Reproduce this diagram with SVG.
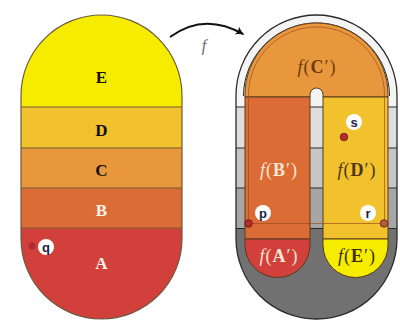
<svg xmlns="http://www.w3.org/2000/svg" width="400" height="329" viewBox="0 0 400 329">
  <style>
    .band-line { stroke: #7a5a30; stroke-width: 1; }
    .gline { stroke: #2a2a2a; stroke-width: 1; }
    .outline { fill: none; stroke: #6a5a40; stroke-width: 1.2; }
    .routline { fill: none; stroke: #2a2a2a; stroke-width: 1.3; }
    .lbl { font-family: "Liberation Serif", serif; font-weight: bold; font-size: 17px; text-anchor: middle; }
    .flbl { font-family: "Liberation Serif", serif; font-size: 18px; text-anchor: middle; letter-spacing: 1px; }
    .pt { font-family: "Liberation Sans", sans-serif; font-weight: bold; font-size: 13px; text-anchor: middle; fill: #1c2244; }
    .cw { fill: #ffffff; }
    .dot { fill: #b8282c; stroke: #5a1a1a; stroke-width: 0.8; }
    .cstroke { stroke: #5a3a1a; stroke-width: 1; }
  </style>
  <defs>
    <clipPath id="stadL">
      <path d="M21,95.5 A80.5,80.5 0 0 1 182,95.5 V238.5 A80.5,80.5 0 0 1 21,238.5 Z"/>
    </clipPath>
    <clipPath id="stadR">
      <path d="M236,95.5 A80.5,80.5 0 0 1 397,95.5 V238.5 A80.5,80.5 0 0 1 236,238.5 Z"/>
    </clipPath>
    <marker id="ah" viewBox="0 0 10 10" refX="8" refY="5" markerWidth="9" markerHeight="9" orient="auto" markerUnits="userSpaceOnUse">
      <path d="M0,0 Q5,4 10,5 Q5,6 0,10 Q3,5 0,0 Z" fill="#111"/>
    </marker>
  </defs>

  <rect width="400" height="329" fill="#ffffff"/>

  <!-- Left shape -->
  <g id="left-shape">
    <g clip-path="url(#stadL)">
      <rect x="15" y="10" width="175" height="97" fill="#f5ec00"/>
      <rect x="15" y="107" width="175" height="41" fill="#f2c12e"/>
      <rect x="15" y="148" width="175" height="40" fill="#e8973c"/>
      <rect x="15" y="188" width="175" height="40" fill="#dc6c35"/>
      <rect x="15" y="228" width="175" height="100" fill="#d1403a"/>
      <line class="band-line" x1="15" y1="107" x2="190" y2="107"/>
      <line class="band-line" x1="15" y1="148" x2="190" y2="148"/>
      <line class="band-line" x1="15" y1="188" x2="190" y2="188"/>
      <line class="band-line" x1="15" y1="228" x2="190" y2="228"/>
    </g>
    <path class="outline" d="M21,95.5 A80.5,80.5 0 0 1 182,95.5 V238.5 A80.5,80.5 0 0 1 21,238.5 Z"/>
  </g>
  <g id="label-E"><text class="lbl" x="101.5" y="83" fill="#111">E</text></g>
  <g id="label-D"><text class="lbl" x="101.5" y="136" fill="#111">D</text></g>
  <g id="label-C"><text class="lbl" x="101.5" y="176" fill="#111">C</text></g>
  <g id="label-B"><text class="lbl" x="101.5" y="216" fill="#fff4ea">B</text></g>
  <g id="label-A"><text class="lbl" x="101.5" y="269" fill="#fff4ea">A</text></g>
  <g id="point-q">
    <circle cx="32" cy="246" r="3.5" fill="#b02a3a"/>
    <circle class="cw" cx="46" cy="247" r="8"/>
    <text class="pt" x="46" y="251.5" fill="#102030">q</text>
  </g>

  <!-- Connector -->
  <g id="connectors">
    <path d="M170,37 Q204,12 243,34" fill="none" stroke="#111" stroke-width="2" marker-end="url(#ah)"/>
    <text x="204" y="51" font-family="Liberation Serif, serif" font-style="italic" font-size="16" fill="#666" text-anchor="middle">f</text>
  </g>

  <!-- Right shape -->
  <g id="right-shape">
    <g clip-path="url(#stadR)">
      <rect x="230" y="10" width="175" height="97" fill="#f4f4f4"/>
      <rect x="230" y="107" width="175" height="41" fill="#dedede"/>
      <rect x="230" y="148" width="175" height="40" fill="#c6c6c6"/>
      <rect x="230" y="188" width="175" height="40.5" fill="#a6a6a6"/>
      <rect x="230" y="228.5" width="175" height="100" fill="#717171"/>
      <line class="gline" x1="230" y1="107" x2="405" y2="107"/>
      <line class="gline" x1="230" y1="148" x2="405" y2="148"/>
      <line class="gline" x1="230" y1="188" x2="405" y2="188"/>
      <line class="gline" x1="230" y1="228.5" x2="405" y2="228.5"/>
    </g>
    <path class="routline" d="M236,95.5 A80.5,80.5 0 0 1 397,95.5 V238.5 A80.5,80.5 0 0 1 236,238.5 Z"/>
    <path fill="none" stroke="#2a2a2a" stroke-width="1" d="M243.5,96 A73,73 0 0 1 389.5,96"/>
  </g>

  <g id="region-fC">
    <path fill="#e8973c" class="cstroke" d="M245,97 V94.5 A71.5,71.5 0 0 1 388,94.5 V97 H323 V94.5 A6.5,6.5 0 0 0 310,94.5 V97 Z"/>
    <text class="flbl" x="317" y="73" fill="#6a3a12"><tspan font-style="italic">f</tspan>(<tspan font-weight="bold">C</tspan>′)</text>
  </g>
  <g id="region-fB">
    <rect x="245" y="97" width="65" height="142" fill="#dc6c35" class="cstroke"/>
    <text class="flbl" x="279" y="176" fill="#fde6d2"><tspan font-style="italic">f</tspan>(<tspan font-weight="bold">B</tspan>′)</text>
  </g>
  <g id="region-fD">
    <rect x="323" y="97" width="65" height="142" fill="#f2c12e" class="cstroke"/>
    <text class="flbl" x="357" y="176" fill="#4a3610"><tspan font-style="italic">f</tspan>(<tspan font-weight="bold">D</tspan>′)</text>
  </g>
  <g id="region-fA">
    <path fill="#d1403a" class="cstroke" d="M245,239 V245 A32.5,32.5 0 0 0 310,245 V239 Z"/>
    <text class="flbl" x="279" y="262" fill="#fde6d2"><tspan font-style="italic">f</tspan>(<tspan font-weight="bold">A</tspan>′)</text>
  </g>
  <g id="region-fE">
    <path fill="#f5ec00" class="cstroke" d="M323,239 V245 A32.5,32.5 0 0 0 388,245 V239 Z"/>
    <text class="flbl" x="357" y="262" fill="#3a3010"><tspan font-style="italic">f</tspan>(<tspan font-weight="bold">E</tspan>′)</text>
  </g>

  <g id="loop">
    <path d="M248.5,223.5 V95 A68,68 0 0 1 384.5,95 V223.5 Z" fill="none" stroke="#9a4a22" stroke-width="0.9" stroke-opacity="0.75"/>
  </g>

  <g id="point-s">
    <circle class="cw" cx="354" cy="122" r="8"/>
    <text class="pt" x="354" y="126.5">s</text>
    <circle class="dot" cx="344" cy="137" r="3.8"/>
  </g>
  <g id="point-p">
    <circle class="cw" cx="263" cy="213" r="8"/>
    <text class="pt" x="263" y="217.5">p</text>
    <circle class="dot" cx="248.5" cy="223.5" r="3.8"/>
  </g>
  <g id="point-r">
    <circle class="cw" cx="368" cy="213" r="8"/>
    <text class="pt" x="368" y="217.5">r</text>
    <circle class="dot" cx="384" cy="223.5" r="3.8" style="fill:#b85a3a"/>
  </g>
</svg>
